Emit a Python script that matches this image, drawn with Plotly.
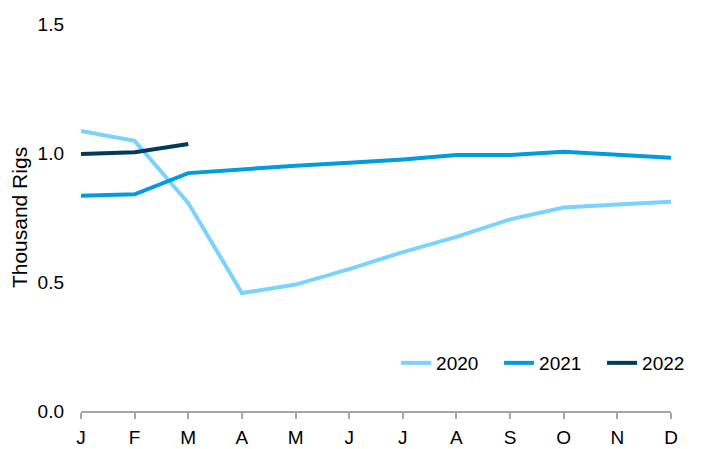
import plotly.graph_objects as go

months = ["J", "F", "M", "A", "M", "J", "J", "A", "S", "O", "N", "D"]
y2020 = [1.085, 1.047, 0.806, 0.457, 0.490, 0.550, 0.616, 0.675, 0.743, 0.789, 0.800, 0.811]
y2021 = [0.834, 0.840, 0.922, 0.938, 0.951, 0.962, 0.975, 0.992, 0.992, 1.005, 0.995, 0.982]
y2022 = [0.996, 1.003, 1.035]
tick_vals = [0.0, 0.5, 1.0, 1.5]

colors = {"2020": "#7AD3FF", "2021": "#009CDE", "2022": "#003B5C"}
x = list(range(len(months)))

fig = go.Figure()
for name, ys in [("2020", y2020), ("2021", y2021), ("2022", y2022)]:
    fig.add_trace(go.Scatter(x=x[:len(ys)], y=ys, mode="lines", name=name,
                             line=dict(color=colors[name], width=4)))

font_family = "Liberation Sans, Arial, sans-serif"
# page body has an 8px margin, so the figure is drawn 8px smaller and offset
fig.update_layout(
    width=696, height=441,
    margin=dict(l=73, r=33, t=16, b=38, autoexpand=False),
    paper_bgcolor="white", plot_bgcolor="white",
    font=dict(family=font_family, size=19, color="#000000"),
    showlegend=True,
    legend=dict(orientation="h", x=0.534, xanchor="left", y=0.124, yanchor="middle",
                font=dict(size=19), bgcolor="rgba(0,0,0,0)", itemwidth=30,
                tracegroupgap=0, entrywidth=58),
)
fig.update_xaxes(
    range=[0, 11], tickmode="array", tickvals=x, ticktext=months,
    showline=True, linecolor="#A6A6A6", linewidth=1.5,
    ticks="outside", ticklen=6, tickcolor="#A6A6A6", tickwidth=1.5,
    showgrid=False, zeroline=False, tickfont=dict(size=19), automargin=False,
    ticklabelstandoff=2,
)
fig.update_yaxes(
    range=[0, 1.5], tickmode="array", tickvals=tick_vals,
    ticktext=[f"{v:.1f}" for v in tick_vals],
    showline=False, showgrid=False, zeroline=False, ticks="",
    ticklabelstandoff=16, tickfont=dict(size=19), automargin=False,
    title=dict(text="Thousand Rigs", font=dict(size=21), standoff=4),
)
fig.write_html("out.html")
